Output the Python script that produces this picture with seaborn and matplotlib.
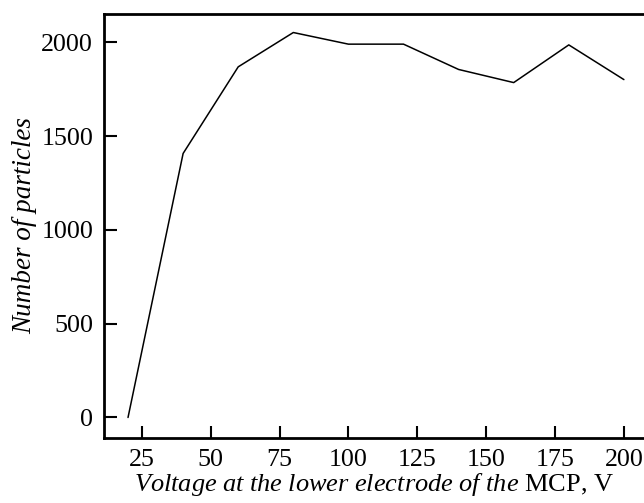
import matplotlib
matplotlib.use("Agg")
import matplotlib.pyplot as plt
import seaborn as sns
import pandas as pd

# Particle count versus voltage on the lower MCP electrode
voltage = [20, 40, 60, 80, 100, 120, 140, 160, 180, 200]
particles = [0, 1408, 1870, 2053, 1991, 1991, 1856, 1786, 1987, 1802]

x_ticks = [25, 50, 75, 100, 125, 150, 175, 200]
y_ticks = [0, 500, 1000, 1500, 2000]

sns.set_theme(style="white")
plt.rcParams["font.family"] = ["Liberation Serif", "DejaVu Serif"]
plt.rcParams["mathtext.fontset"] = "custom"
plt.rcParams["mathtext.rm"] = "Liberation Serif"
plt.rcParams["mathtext.it"] = "Liberation Serif:italic"

df = pd.DataFrame({"voltage": voltage, "particles": particles})

fig = plt.figure(figsize=(6.44, 5.03), dpi=100)
ax = fig.add_axes([0.162, 0.129, 0.838, 0.844])

sns.lineplot(data=df, x="voltage", y="particles", ax=ax, color="black",
             linewidth=1.1)

ax.set_xlim(11.4, 207.3)
ax.set_ylim(-110, 2154)
ax.set_xticks(x_ticks)
ax.set_yticks(y_ticks)

for side in ["left", "bottom", "top"]:
    ax.spines[side].set_visible(True)
    ax.spines[side].set_color("black")
    ax.spines[side].set_linewidth(2.0)
ax.spines["right"].set_visible(False)

ax.tick_params(axis="both", which="major", direction="in", length=9,
               width=1.5, colors="black", labelsize=18.7, pad=8,
               bottom=True, left=True, top=False, right=False)
ax.tick_params(axis="x", pad=8)

ax.set_xlabel(r"$\mathit{Voltage\ at\ the\ lower\ electrode\ of\ the}$ MCP, V",
              fontsize=19, color="black", labelpad=0)
ax.set_ylabel("Number of particles", fontsize=19.5, fontstyle="italic",
              color="black", labelpad=3)
ax.grid(False)

fig.savefig("out.png", dpi=100, facecolor="white")
